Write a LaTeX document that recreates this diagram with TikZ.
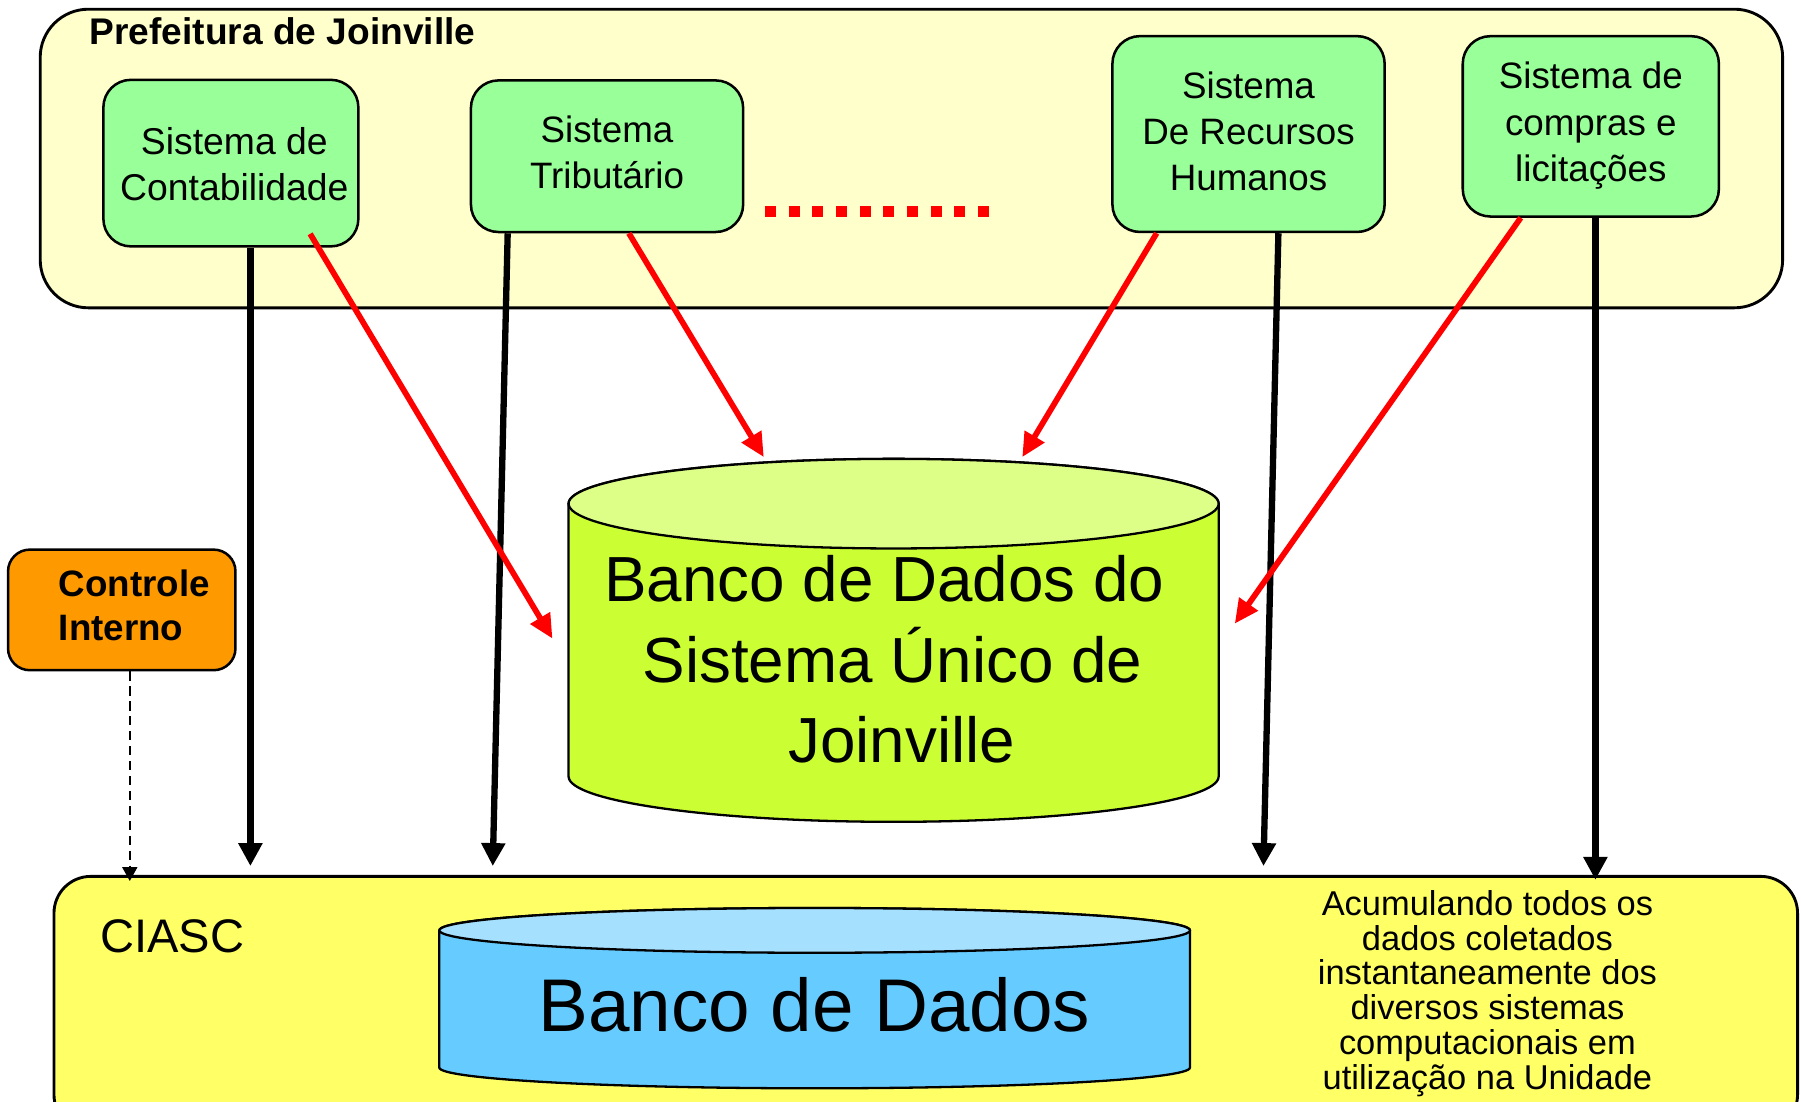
\documentclass[tikz,border=0pt]{standalone}
\usepackage{fontspec}
\setmainfont{Liberation Sans}
\usetikzlibrary{arrows.meta,calc}
\definecolor{prefbg}{HTML}{FFFFCC}
\definecolor{sysgreen}{HTML}{99FF99}
\definecolor{cyltop}{HTML}{DDFF88}
\definecolor{cylbody}{HTML}{CCFF33}
\definecolor{ciascbg}{HTML}{FFFF66}
\definecolor{bluetop}{HTML}{A6E0FF}
\definecolor{bluebody}{HTML}{66CCFF}
\definecolor{orangebg}{HTML}{FF9900}
\begin{document}
\begin{tikzpicture}[x=1pt,y=-1pt,
  outerbox/.style={draw=black, line width=2.5pt, rounded corners=42pt},
  sysbox/.style={draw=black, line width=2.2pt, fill=sysgreen, rounded corners=24pt,
     align=center, font=\fontsize{32}{40}\selectfont, inner sep=0pt},
  ctrlbox/.style={draw=black, line width=2.2pt, fill=orangebg, rounded corners=19pt,
     minimum width=198pt, minimum height=105pt, inner sep=0pt},
  blackarrow/.style={draw=black, line width=5.5pt, -{Triangle[length=20pt,width=20pt]}},
  redarrow/.style={draw=red, line width=5pt, -{Triangle[length=21pt,width=19pt]}},
  dasharrow/.style={draw=black, line width=1.5pt, dash pattern=on 8pt off 5pt,
     -{Triangle[length=12pt,width=13pt]}},
  cyl/.style={draw=black, line width=2pt}
]
\useasboundingbox (0,0) rectangle (1568,958.6);

% outer boxes
\draw[outerbox, fill=prefbg] (35,8) rectangle (1552,268);
\node[anchor=west, font=\bfseries\fontsize{32.3}{40}\selectfont, inner sep=0pt] (preftitle) at (78,27) {Prefeitura de Joinville};

\draw[outerbox, fill=ciascbg, rounded corners=32pt] (47,763) rectangle (1565,985);
\node[font=\fontsize{41}{48}\selectfont, inner sep=0pt] (ciasc) at (150,815) {CIASC};

% green cylinder
\filldraw[cyl, fill=cylbody] (495,438.5) -- (495,676)
  arc[start angle=180, end angle=360, x radius=283pt, y radius=39.5pt]
  -- (1061,438.5)
  arc[start angle=0, end angle=180, x radius=283pt, y radius=39pt] -- cycle;
\filldraw[cyl, fill=cyltop] (778,438.5) ellipse [x radius=283pt, y radius=39pt];
\node[align=center, font=\fontsize{55.5}{70}\selectfont, inner sep=0pt] (bdsu) at (777,574)
  {Banco de Dados do\hspace*{14pt}\\Sistema Único de\\\hspace*{16pt}Joinville};

% blue cylinder
\filldraw[cyl, fill=bluebody] (382.5,810) -- (382.5,929.5)
  arc[start angle=180, end angle=360, x radius=326.75pt, y radius=18pt]
  -- (1036,810)
  arc[start angle=0, end angle=180, x radius=326.75pt, y radius=19.5pt] -- cycle;
\filldraw[cyl, fill=bluetop] (709.25,810) ellipse [x radius=326.75pt, y radius=19.5pt];
\node[font=\fontsize{65}{75}\selectfont, inner sep=0pt] (bd) at (709,875) {Banco de Dados};

\node[align=center, font=\fontsize{30}{30.4}\selectfont, inner sep=0pt] (acum) at (1295,865)
  {Acumulando todos os\\dados coletados\\instantaneamente dos\\diversos sistemas\\computacionais em\\utilização na Unidade};

% system boxes
\node[sysbox, minimum width=222pt, minimum height=145pt] (cont) at (201,142) {};
\node[align=center, font=\fontsize{32.5}{40}\selectfont, inner sep=0pt] (conttxt) at (204,143) {Sistema de\\Contabilidade};
\node[sysbox, minimum width=237pt, minimum height=132pt] (trib) at (528.5,136) {};
\node[align=center, font=\fontsize{32}{40}\selectfont, inner sep=0pt] (tribtxt) at (528.5,133) {Sistema\\Tributário};
\node[sysbox, minimum width=237pt, minimum height=170.5pt] (rh) at (1087,116.7) {};
\node[align=center, font=\fontsize{32}{40}\selectfont, inner sep=0pt] (rhtxt) at (1087,114.5) {Sistema\\De Recursos\\Humanos};
\node[sysbox, minimum width=223pt, minimum height=157pt] (comp) at (1385,110) {};
\node[align=center, font=\fontsize{32}{40.5}\selectfont, inner sep=0pt] (comptxt) at (1385,109.5) {Sistema de\\compras e\\licitações};

% controle interno
\node[ctrlbox] (ctrl) at (106,531) {};
\node[anchor=west, align=left, font=\bfseries\fontsize{32}{39}\selectfont, inner sep=0pt] (ctrltxt) at (51,527) {Controle\\Interno};

% red dotted line
\coordinate (dotsA) at (666,184);
\coordinate (dotsB) at (861,184);
\draw[red, line width=10pt, dash pattern=on 9.5pt off 11.1pt] (dotsA) -- (dotsB);

% arrow end points
\coordinate (e1) at (218,754);
\coordinate (e2) at (429,754);
\coordinate (e3) at (1100,754);
\coordinate (e4) at (1389,766);
\coordinate (r1) at (481,556);
\coordinate (r2) at (665,398);
\coordinate (r3) at (890,398);
\coordinate (r4) at (1075,543);
\coordinate (d1) at (113,767);

% black arrows
\draw[blackarrow] ([xshift=17pt]cont.south) -- (e1);
\draw[blackarrow] ([xshift=-86.5pt]trib.south) -- (e2);
\draw[blackarrow] ([xshift=26pt]rh.south) -- (e3);
\draw[blackarrow] ([xshift=4pt]comp.south) -- (e4);

% red arrows
\draw[redarrow] ([xshift=69pt,yshift=12pt]cont.south) -- (r1);
\draw[redarrow] ([xshift=19pt]trib.south) -- (r2);
\draw[redarrow] ([xshift=-80pt]rh.south) -- (r3);
\draw[redarrow] ([xshift=-61pt]comp.south) -- (r4);

% dashed arrow
\draw[dasharrow] ([xshift=7pt]ctrl.south) -- (d1);
\end{tikzpicture}
\end{document}
